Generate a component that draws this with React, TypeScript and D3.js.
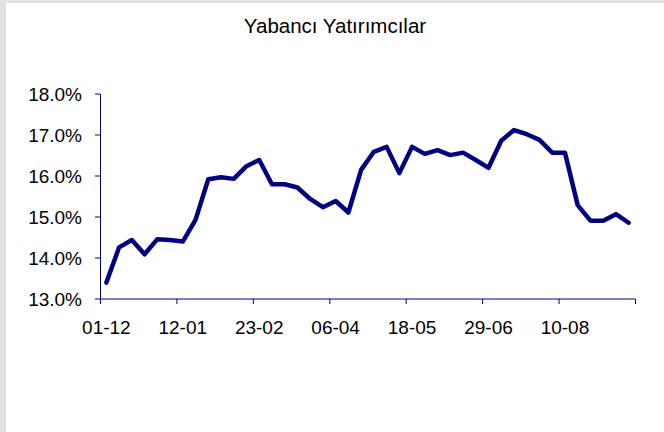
import React from "react";
import * as d3 from "d3";

// weekly dates (dd-mm)
const dates = [
  "01-12", "08-12", "15-12", "22-12", "29-12", "05-01",
  "12-01", "19-01", "26-01", "02-02", "09-02", "16-02",
  "23-02", "02-03", "09-03", "16-03", "23-03", "30-03",
  "06-04", "13-04", "20-04", "27-04", "04-05", "11-05",
  "18-05", "25-05", "01-06", "08-06", "15-06", "22-06",
  "29-06", "06-07", "13-07", "20-07", "27-07", "03-08",
  "10-08", "17-08", "24-08", "31-08", "07-09", "14-09",
];

// share of foreign investors, %
const values = [
  13.4, 14.26, 14.44, 14.09, 14.46, 14.44,
  14.4, 14.93, 15.92, 15.97, 15.93, 16.24,
  16.39, 15.8, 15.8, 15.72, 15.44, 15.24,
  15.39, 15.11, 16.15, 16.59, 16.71, 16.07,
  16.71, 16.54, 16.63, 16.51, 16.57, 16.39,
  16.2, 16.86, 17.12, 17.02, 16.88, 16.57,
  16.57, 15.29, 14.91, 14.91, 15.07, 14.86,
];

const yTicks = [13, 14, 15, 16, 17, 18];
const labelEvery = 6;

const W = 664;
const H = 432;
const m = { left: 100, right: 29, top: 94, bottom: 133 };
const navy = "#000080";
const font = "Arial, 'Liberation Sans', sans-serif";

export default function App() {
  const bw = W - m.left - m.right;
  const bh = H - m.top - m.bottom;

  const x = d3.scaleBand<number>().domain(d3.range(values.length)).range([0, bw]).padding(0);
  const y = d3.scaleLinear().domain([13, 18]).range([bh, 0]);

  const line = d3
    .line<number>()
    .x((_, i) => x(i)! + x.bandwidth() / 2)
    .y((d) => y(d));

  const boundaries = d3.range(0, values.length + 1, labelEvery);

  React.useEffect(() => {
    document.body.style.margin = "0";
  }, []);

  return (
    <svg width={W} height={H} style={{ display: "block" }}>
      <rect x={0} y={0} width={W} height={H} fill="#e2e2e2" />
      <rect x={6} y={3} width={W - 6} height={H - 3} fill="#ffffff" />
      <text x={335} y={33} textAnchor="middle" fontFamily={font} fontSize={20.5} fill="#000">
        Yabancı Yatırımcılar
      </text>
      <g transform={`translate(${m.left},${m.top})`}>
        {yTicks.map((t) => (
          <g key={t} transform={`translate(0,${y(t)})`}>
            <line x1={-5} x2={0} stroke={navy} strokeWidth={1} />
            <text x={-18} dy="0.36em" textAnchor="end" fontFamily={font} fontSize={19} fill="#000">
              {d3.format(".1%")(t / 100)}
            </text>
          </g>
        ))}
        <line x1={0.5} x2={0.5} y1={0} y2={bh} stroke={navy} strokeWidth={1} />
        <line x1={0} x2={bw + 0.5} y1={bh} y2={bh} stroke={navy} strokeWidth={1} />
        {boundaries.map((b) => {
          const bx = b === values.length ? bw : x(b)!;
          return <line key={b} x1={bx + 0.5} x2={bx + 0.5} y1={bh} y2={bh + 5} stroke={navy} strokeWidth={1} />;
        })}
        {dates.map((d, i) =>
          i % labelEvery === 0 ? (
            <text
              key={d}
              x={x(i)! + x.bandwidth() / 2}
              y={bh + 35}
              textAnchor="middle"
              fontFamily={font}
              fontSize={19}
              fill="#000"
            >
              {d}
            </text>
          ) : null
        )}
        <path d={line(values)!} fill="none" stroke={navy} strokeWidth={4.5} strokeLinejoin="round" strokeLinecap="round" />
      </g>
    </svg>
  );
}
